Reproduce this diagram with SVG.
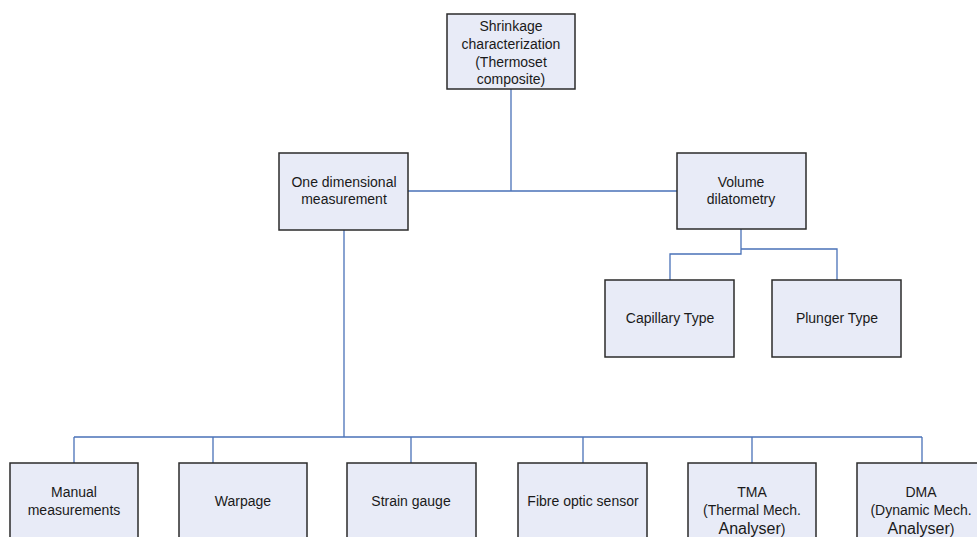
<svg xmlns="http://www.w3.org/2000/svg" width="977" height="537" viewBox="0 0 977 537">
<style>
.box{fill:#e8ebf7;stroke:#2b2b2b;stroke-width:1.5}
.t{font-family:"Liberation Sans",Arial,sans-serif;font-size:14px;fill:#1a1a1a;text-anchor:middle}
.big{font-size:16px}
.c{fill:none;stroke:#4a72b8;stroke-width:1.3}
</style>
<rect width="977" height="537" fill="#fff"/>
<g id="connectors">
<path class="c" d="M511,89 V191 M408,191 H677"/>
<path class="c" d="M344,230 V437 M74,437 H922 M74,437 V463 M213,437 V463 M411,437 V463 M583,437 V463 M752,437 V463 M922,437 V463"/>
<path class="c" d="M741,229 V254 H670 V280 M741,249 H837 V280"/>
</g>
<g id="root">
<rect class="box" x="447" y="14" width="128" height="75"/>
<text class="t" x="511" y="31">Shrinkage</text>
<text class="t" x="511" y="49">characterization</text>
<text class="t" x="511" y="67">(Thermoset</text>
<text class="t" x="511" y="84">composite)</text>
</g>
<g id="one-dim">
<rect class="box" x="279" y="153" width="129" height="77"/>
<text class="t" x="344" y="187">One dimensional</text>
<text class="t" x="344" y="204">measurement</text>
</g>
<g id="volume">
<rect class="box" x="677" y="153" width="129" height="76"/>
<text class="t" x="741" y="187">Volume</text>
<text class="t" x="741" y="204">dilatometry</text>
</g>
<g id="capillary">
<rect class="box" x="605" y="280" width="129" height="77"/>
<text class="t" x="670" y="323">Capillary Type</text>
</g>
<g id="plunger">
<rect class="box" x="772" y="280" width="129" height="77"/>
<text class="t" x="837" y="323">Plunger Type</text>
</g>
<g id="manual">
<rect class="box" x="10" y="463" width="128" height="90"/>
<text class="t" x="74" y="497">Manual</text>
<text class="t" x="74" y="515">measurements</text>
</g>
<g id="warpage">
<rect class="box" x="179" y="463" width="128" height="90"/>
<text class="t" x="243" y="506">Warpage</text>
</g>
<g id="strain">
<rect class="box" x="347" y="463" width="129" height="90"/>
<text class="t" x="411" y="506">Strain gauge</text>
</g>
<g id="fibre">
<rect class="box" x="518" y="463" width="129" height="90"/>
<text class="t" x="583" y="506">Fibre optic sensor</text>
</g>
<g id="tma">
<rect class="box" x="688" y="463" width="128" height="90"/>
<text class="t" x="752" y="497">TMA</text>
<text class="t" x="752" y="515">(Thermal Mech.</text>
<text class="t" x="752" y="534"><tspan class="big">Analyser</tspan>)</text>
</g>
<g id="dma">
<rect class="box" x="857" y="463" width="129" height="90"/>
<text class="t" x="921" y="497">DMA</text>
<text class="t" x="921" y="515">(Dynamic Mech.</text>
<text class="t" x="921" y="534"><tspan class="big">Analyser</tspan>)</text>
</g>
</svg>
